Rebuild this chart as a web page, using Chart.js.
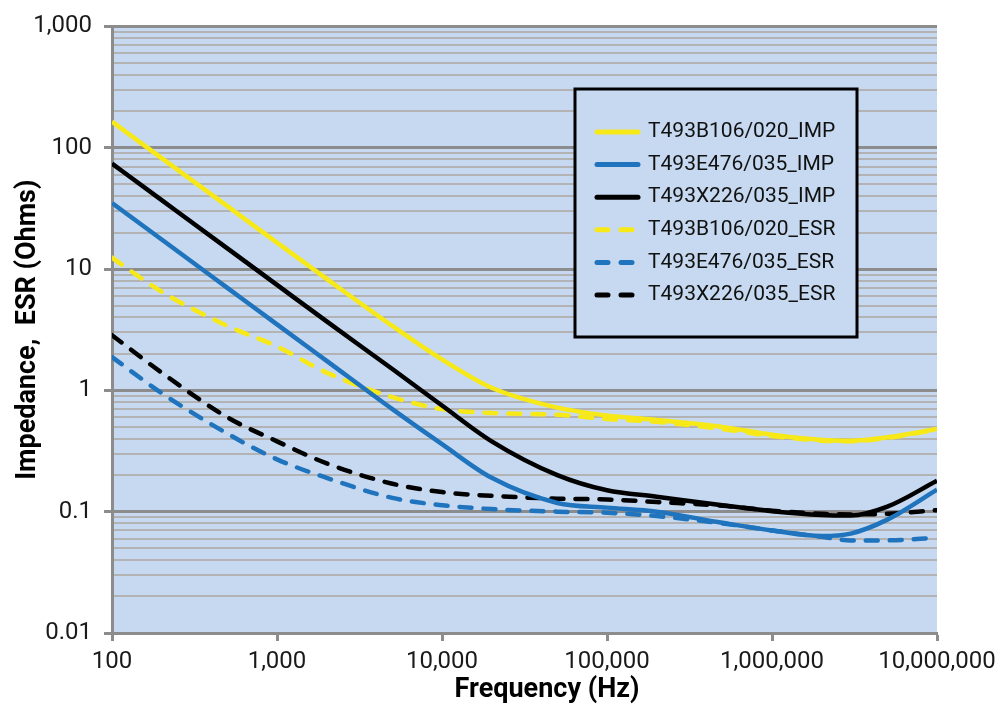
<!DOCTYPE html>
<html lang="en">
<head>
    <meta charset="UTF-8">
    <title>Impedance / ESR</title>
    <script src="https://cdn.jsdelivr.net/npm/chart.js"></script>
    <style>
        body { margin: 0; background: #fff; }
        #wrap { width: 1007px; height: 715px; }
    </style>
</head>
<body>
    <div id="wrap"><canvas id="impChart" width="1007" height="715"></canvas></div>

    <script>
        const freqs = [100, 200, 500, 1000, 2000, 5000, 10000, 20000, 50000,
                       100000, 200000, 500000, 1000000, 2000000, 3000000, 5000000, 10000000];

        const b106Imp = [164, 82, 33, 16.5, 8.3, 3.4, 1.8, 1.05, 0.72, 0.62, 0.57, 0.5, 0.43, 0.39, 0.385, 0.41, 0.48];
        const e476Imp = [35, 17.5, 7, 3.5, 1.75, 0.7, 0.36, 0.19, 0.118, 0.108, 0.1, 0.081, 0.07, 0.063, 0.066, 0.086, 0.152];
        const x226Imp = [74, 37, 14.8, 7.4, 3.7, 1.5, 0.75, 0.38, 0.2, 0.15, 0.133, 0.113, 0.101, 0.094, 0.093, 0.11, 0.18];
        const b106Esr = [12.4, 6.5, 3.4, 2.3, 1.4, 0.88, 0.7, 0.65, 0.63, 0.58, 0.55, 0.48, 0.42, 0.385, 0.38, 0.405, 0.475];
        const e476Esr = [1.88, 0.95, 0.44, 0.27, 0.19, 0.13, 0.113, 0.105, 0.1, 0.098, 0.092, 0.08, 0.07, 0.062, 0.058, 0.058, 0.061];
        const x226Esr = [2.85, 1.4, 0.6, 0.38, 0.25, 0.17, 0.145, 0.135, 0.128, 0.126, 0.12, 0.112, 0.102, 0.096, 0.095, 0.096, 0.103];

        const seriesNames = ['T493B106/020_IMP', 'T493E476/035_IMP', 'T493X226/035_IMP',
                             'T493B106/020_ESR', 'T493E476/035_ESR', 'T493X226/035_ESR'];

        const yMajor = [0.01, 0.1, 1, 10, 100, 1000];
        const yTickLabels = ['0.01', '0.1', '1', '10', '100', '1,000'];
        const xMajor = [100, 1000, 10000, 100000, 1000000, 10000000];
        const xTickLabels = ['100', '1,000', '10,000', '100,000', '1,000,000', '10,000,000'];

        const YELLOW = '#f7e817';
        const BLUE = '#1f74bd';
        const BLACK = '#000000';
        const DASH = [12, 12];
        const PLOT_BG = '#c6d9f0';
        const MAJOR_GRID = '#8c8c8c';
        const MINOR_GRID = '#b3b3b3';

        function majorIndex(list, v) {
            return list.findIndex(m => Math.abs(v - m) / m < 1e-6);
        }

        function makeSet(label, values, color, dashed) {
            return {
                label: label,
                data: freqs.map((f, i) => ({ x: f, y: values[i] })),
                borderColor: color,
                backgroundColor: color,
                borderWidth: 4.5,
                borderDash: dashed ? DASH : [],
                borderCapStyle: dashed ? 'round' : 'butt',
                pointRadius: 0,
                cubicInterpolationMode: 'monotone',
                fill: false
            };
        }

        const plotBg = {
            id: 'plotBg',
            beforeDraw(chart) {
                const a = chart.chartArea, c = chart.ctx;
                c.save();
                c.fillStyle = PLOT_BG;
                c.fillRect(a.left, a.top, a.right - a.left, a.bottom - a.top);
                c.restore();
            }
        };

        // boxed legend inside the plot + x axis title
        const boxLegend = {
            id: 'boxLegend',
            afterDraw(chart) {
                const c = chart.ctx;
                c.save();
                c.fillStyle = PLOT_BG;
                c.fillRect(575, 89, 282, 248);
                c.lineWidth = 3;
                c.strokeStyle = '#000';
                c.strokeRect(575, 89, 282, 248);
                chart.data.datasets.forEach((ds, i) => {
                    const y = 132 + i * 32.6;
                    c.beginPath();
                    c.strokeStyle = ds.borderColor;
                    c.lineWidth = 5;
                    c.lineCap = 'round';
                    c.setLineDash(ds.borderDash.length ? [11, 13] : []);
                    c.moveTo(597, y);
                    c.lineTo(638, y);
                    c.stroke();
                    c.setLineDash([]);
                    c.fillStyle = '#111';
                    c.font = '21px Roboto';
                    c.textBaseline = 'middle';
                    c.fillText(ds.label, 648, y);
                });
                c.font = 'bold 27px Roboto';
                c.fillStyle = '#000';
                c.textAlign = 'center';
                c.textBaseline = 'middle';
                c.fillText('Frequency (Hz)', 547, 690);
                c.restore();
            }
        };

        const ctx = document.getElementById('impChart').getContext('2d');
        new Chart(ctx, {
            type: 'line',
            data: {
                datasets: [
                    makeSet(seriesNames[0], b106Imp, YELLOW, false),
                    makeSet(seriesNames[1], e476Imp, BLUE, false),
                    makeSet(seriesNames[2], x226Imp, BLACK, false),
                    makeSet(seriesNames[3], b106Esr, YELLOW, true),
                    makeSet(seriesNames[4], e476Esr, BLUE, true),
                    makeSet(seriesNames[5], x226Esr, BLACK, true)
                ]
            },
            options: {
                responsive: false,
                animation: false,
                layout: { padding: { left: 0, top: 22, right: 70, bottom: 0 } },
                plugins: {
                    legend: { display: false },
                    tooltip: { enabled: false }
                },
                scales: {
                    x: {
                        type: 'logarithmic',
                        min: 100,
                        max: 10000000,
                        afterFit(scale) { scale.height = 82; },
                        afterBuildTicks(scale) {
                            scale.ticks = xMajor.map(v => ({ value: v }));
                        },
                        ticks: {
                            autoSkip: false,
                            maxRotation: 0,
                            padding: 7,
                            color: '#1a1a1a',
                            font: { family: 'Roboto', size: 24 },
                            callback: (v) => xTickLabels[majorIndex(xMajor, v)]
                        },
                        grid: {
                            drawOnChartArea: false,
                            tickLength: 8,
                            tickColor: MAJOR_GRID,
                            tickWidth: 3
                        },
                        border: { color: MAJOR_GRID, width: 3 }
                    },
                    y: {
                        type: 'logarithmic',
                        min: 0.01,
                        max: 1000,
                        afterFit(scale) { scale.width = 112; },
                        afterBuildTicks(scale) {
                            const t = [];
                            for (let k = 0; k < yMajor.length; k++) {
                                const base = yMajor[k];
                                t.push({ value: base });
                                if (k < yMajor.length - 1) {
                                    for (let m = 2; m <= 9; m++) t.push({ value: base * m });
                                }
                            }
                            scale.ticks = t;
                        },
                        ticks: {
                            autoSkip: false,
                            padding: 12,
                            color: '#1a1a1a',
                            font: { family: 'Roboto', size: 24 },
                            callback: (v) => {
                                const i = majorIndex(yMajor, v);
                                return i >= 0 ? yTickLabels[i] : '';
                            }
                        },
                        grid: {
                            tickLength: 8,
                            color: (c) => majorIndex(yMajor, c.tick.value) >= 0 ? MAJOR_GRID : MINOR_GRID,
                            lineWidth: (c) => majorIndex(yMajor, c.tick.value) >= 0 ? 3 : 2,
                            tickColor: (c) => majorIndex(yMajor, c.tick.value) >= 0 ? MAJOR_GRID : 'rgba(0,0,0,0)',
                            tickWidth: 3
                        },
                        border: { color: MAJOR_GRID, width: 3 },
                        title: {
                            display: true,
                            text: 'Impedance,  ESR (Ohms)',
                            color: '#000',
                            padding: { top: 12, bottom: 0 },
                            font: { family: 'Roboto', size: 27, weight: 'bold' }
                        }
                    }
                }
            },
            plugins: [plotBg, boxLegend]
        });
    </script>
</body>
</html>
